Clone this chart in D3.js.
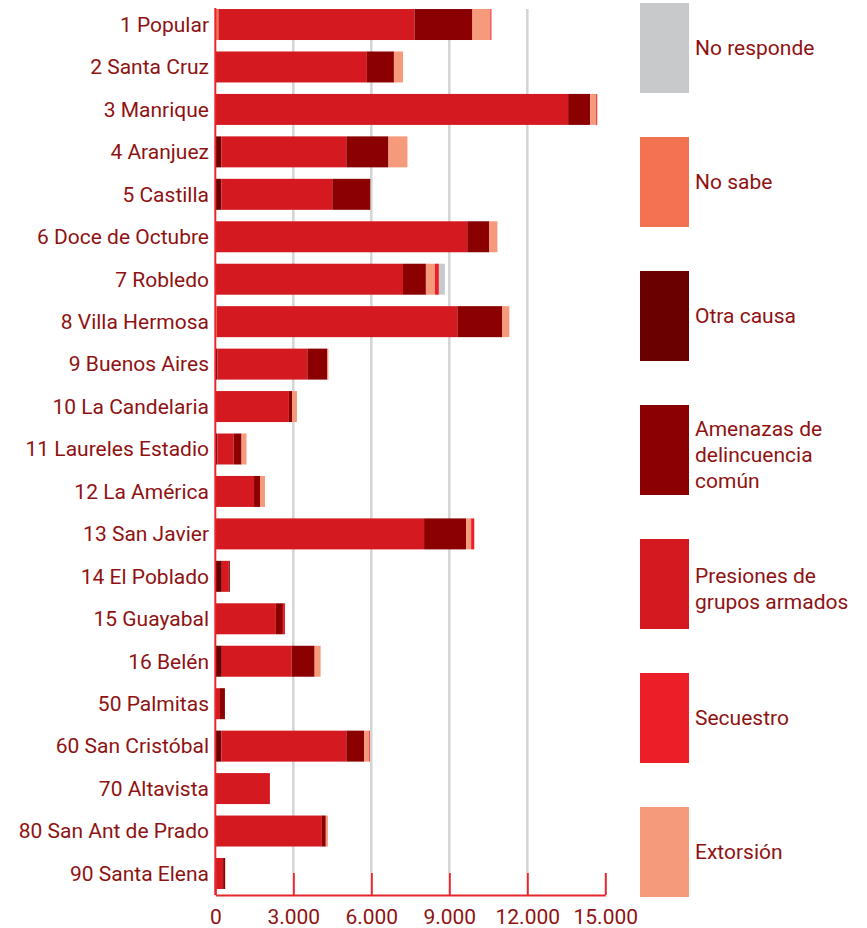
<!DOCTYPE html><html><head><meta charset="UTF-8"><script src="https://d3js.org/d3.v7.min.js"></script><style>
            body { margin: 0; background: #fff; }
            text { font-family: Roboto, "Noto Sans", sans-serif; fill: #8f1212; }
        </style></head><body><div id="chart"></div><script>
            const comunas = ["1 Popular","2 Santa Cruz","3 Manrique","4 Aranjuez","5 Castilla","6 Doce de Octubre","7 Robledo","8 Villa Hermosa","9 Buenos Aires","10 La Candelaria","11 Laureles Estadio","12 La América","13 San Javier","14 El Poblado","15 Guayabal","16 Belén","50 Palmitas","60 San Cristóbal","70 Altavista","80 San Ant de Prado","90 Santa Elena"];

            // values per series, same order as comunas
            const noSabe      = [120,0,0,0,0,0,0,60,0,0,0,0,0,0,0,0,0,0,0,0,0];
            const otraCausa   = [0,0,0,230,230,0,0,0,80,0,80,0,0,250,0,250,0,230,0,0,0];
            const presiones   = [7540,5830,13570,4810,4270,9690,7220,9250,3460,2830,620,1490,8030,270,2330,2690,180,4810,2100,4100,300];
            const amenazas    = [2230,1040,850,1620,1460,850,880,1730,770,120,310,230,1620,40,270,880,190,690,0,150,80];
            const extorsion   = [690,350,230,730,0,310,350,270,40,190,190,190,190,0,0,230,0,190,0,80,0];
            const secuestro   = [40,0,40,0,0,0,150,0,0,0,0,0,120,0,80,0,0,30,0,0,0];
            const noResponde  = [0,0,0,0,0,0,230,0,0,0,0,0,0,0,0,0,0,0,0,0,0];

            const xTicks = [0,3000,6000,9000,12000,15000];

            const series = [
                {key: "noSabe", label: ["No sabe"], color: "#f27252", values: noSabe},
                {key: "otraCausa", label: ["Otra causa"], color: "#6a0000", values: otraCausa},
                {key: "presiones", label: ["Presiones de","grupos armados"], color: "#d51920", values: presiones},
                {key: "amenazas", label: ["Amenazas de","delincuencia","común"], color: "#8b0000", values: amenazas},
                {key: "extorsion", label: ["Extorsión"], color: "#f59a7a", values: extorsion},
                {key: "secuestro", label: ["Secuestro"], color: "#ec1f28", values: secuestro},
                {key: "noResponde", label: ["No responde"], color: "#c8c9cb", values: noResponde}
            ];
            const legendOrder = ["noResponde","noSabe","otraCausa","amenazas","presiones","secuestro","extorsion"];

            const rows = comunas.map((c, i) => {
                const r = {comuna: c};
                series.forEach(s => r[s.key] = s.values[i]);
                return r;
            });

            const svg = d3.select('#chart').append('svg')
                .attr('width', 867).attr('height', 928);

            const x = d3.scaleLinear().domain([0, 15000]).range([215.3, 605.3]);
            const y = d3.scaleBand().domain(comunas).range([3.3, 894.7])
                .paddingInner(0.27).paddingOuter(0.135);

            const loc = d3.formatLocale({decimal: ",", thousands: ".", grouping: [3], currency: ["", ""]});
            const fmt = loc.format(",");

            // gridlines
            svg.append('g').selectAll('line')
                .data(xTicks.slice(1, 5))
                .enter().append('line')
                .attr('x1', d => x(d)).attr('x2', d => x(d))
                .attr('y1', 9).attr('y2', 873)
                .attr('stroke', '#d4d4d4').attr('stroke-width', 2.5);

            const stack = d3.stack().keys(series.map(s => s.key));
            const stacked = stack(rows);
            const colorOf = Object.fromEntries(series.map(s => [s.key, s.color]));

            svg.append('g').selectAll('g')
                .data(stacked)
                .enter().append('g')
                .attr('fill', d => colorOf[d.key])
                .selectAll('rect')
                .data(d => d)
                .enter().append('rect')
                .attr('x', d => x(d[0]))
                .attr('width', d => Math.max(0, x(d[1]) - x(d[0])))
                .attr('y', d => y(d.data.comuna))
                .attr('height', y.bandwidth());

            // category labels
            svg.append('g').selectAll('text')
                .data(comunas)
                .enter().append('text')
                .attr('x', 209)
                .attr('y', d => y(d) + y.bandwidth() / 2)
                .attr('dy', '0.35em')
                .attr('text-anchor', 'end')
                .attr('font-size', 21)
                .text(d => d);

            // axes
            const axisCol = '#e8262e';
            svg.append('line')
                .attr('x1', x(0)).attr('x2', x(0))
                .attr('y1', 8).attr('y2', 895)
                .attr('stroke', axisCol).attr('stroke-width', 2);

            const xAxis = svg.append('g')
                .attr('transform', 'translate(0,895)')
                .call(d3.axisBottom(x).tickValues(xTicks).tickFormat(d => fmt(d))
                    .tickSizeInner(-22).tickSizeOuter(0).tickPadding(12));
            xAxis.select('.domain').attr('stroke', axisCol).attr('stroke-width', 2);
            xAxis.selectAll('.tick line').attr('stroke', axisCol).attr('stroke-width', 2);
            xAxis.selectAll('.tick text')
                .attr('font-size', 21)
                .attr('font-family', 'Roboto, "Noto Sans", sans-serif')
                .attr('fill', '#8f1212')
                .attr('y', 9).attr('dy', '0.95em');

            // legend
            const leg = svg.append('g').selectAll('g')
                .data(legendOrder.map(k => series.find(s => s.key === k)))
                .enter().append('g')
                .attr('transform', (d, i) => `translate(640,${3 + i * 134})`);
            leg.append('rect')
                .attr('width', 49).attr('height', 90)
                .attr('fill', d => d.color);
            leg.append('text')
                .attr('font-size', 21)
                .selectAll('tspan')
                .data(d => d.label.map((t, j) => ({t, j, n: d.label.length})))
                .enter().append('tspan')
                .attr('x', 55)
                .attr('y', d => 45 + (d.j - (d.n - 1) / 2) * 26 + (d.n > 1 ? 4.5 : 0))
                .attr('dy', '0.35em')
                .text(d => d.t);
        </script></body></html>
